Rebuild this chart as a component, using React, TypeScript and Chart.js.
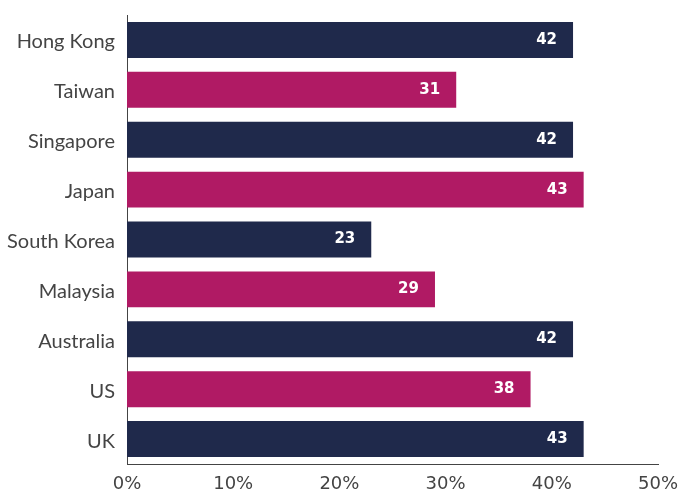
import React, { useEffect, useRef } from "react";
import { Chart, registerables } from "chart.js";

Chart.register(...registerables);

const categories = ["Hong Kong", "Taiwan", "Singapore", "Japan", "South Korea", "Malaysia", "Australia", "US", "UK"];
const values = [42, 31, 42, 43, 23, 29, 42, 38, 43];
const barColors = ["#1f294b", "#b01a64", "#1f294b", "#b01a64", "#1f294b", "#b01a64", "#1f294b", "#b01a64", "#1f294b"];
const xTicks = [0, 10, 20, 30, 40, 50];

const valueLabels = {
  id: "valueLabels",
  afterDatasetsDraw(chart: any) {
    const ctx = chart.ctx;
    const meta = chart.getDatasetMeta(0);
    ctx.save();
    ctx.fillStyle = "#ffffff";
    ctx.font = "bold 15px 'DejaVu Sans', sans-serif";
    ctx.textAlign = "right";
    ctx.textBaseline = "middle";
    meta.data.forEach((el: any, i: number) => {
      ctx.fillText(String(values[i]), el.x - 16, el.y);
    });
    ctx.restore();
  },
};

function zeroPad(scale: any) {
  scale.paddingLeft = 0;
  scale.paddingRight = 0;
  scale.paddingTop = 0;
  scale.paddingBottom = 0;
}

export default function App() {
  const ref = useRef<HTMLCanvasElement>(null);
  useEffect(() => {
    const chart = new Chart(ref.current!, {
      type: "bar",
      data: {
        labels: categories,
        datasets: [
          {
            data: values,
            backgroundColor: barColors,
            barPercentage: 0.72,
            categoryPercentage: 1,
          },
        ],
      },
      options: {
        indexAxis: "y",
        animation: false,
        responsive: true,
        maintainAspectRatio: false,
        layout: { padding: { top: 15, right: 21, left: 0, bottom: 0 } },
        plugins: { legend: { display: false }, tooltip: { enabled: false } },
        scales: {
          x: {
            min: 0,
            max: 50,
            afterBuildTicks(scale: any) {
              scale.ticks = xTicks.map((v) => ({ value: v }));
            },
            afterFit(scale: any) {
              scale.height = 28;
              zeroPad(scale);
            },
            grid: { display: false, drawTicks: false },
            border: { display: true, color: "#444444", width: 1 },
            ticks: {
              color: "#444444",
              font: { family: "'DejaVu Sans', sans-serif", size: 18 },
              padding: 10,
              maxRotation: 0,
              callback: (v: any) => v + "%",
            },
          },
          y: {
            afterFit(scale: any) {
              scale.width = 127;
              zeroPad(scale);
            },
            grid: { display: false, drawTicks: false },
            border: { display: true, color: "#444444", width: 1 },
            ticks: {
              color: "#444444",
              font: { family: "Lato, sans-serif", size: 20 },
              padding: 12,
              labelOffset: 2,
            },
          },
        },
      },
      plugins: [valueLabels],
    });
    return () => chart.destroy();
  }, []);
  return (
    <div style={{ position: "fixed", left: 0, top: 0, width: 679, height: 492, background: "#fff" }}>
      <canvas ref={ref} />
    </div>
  );
}
